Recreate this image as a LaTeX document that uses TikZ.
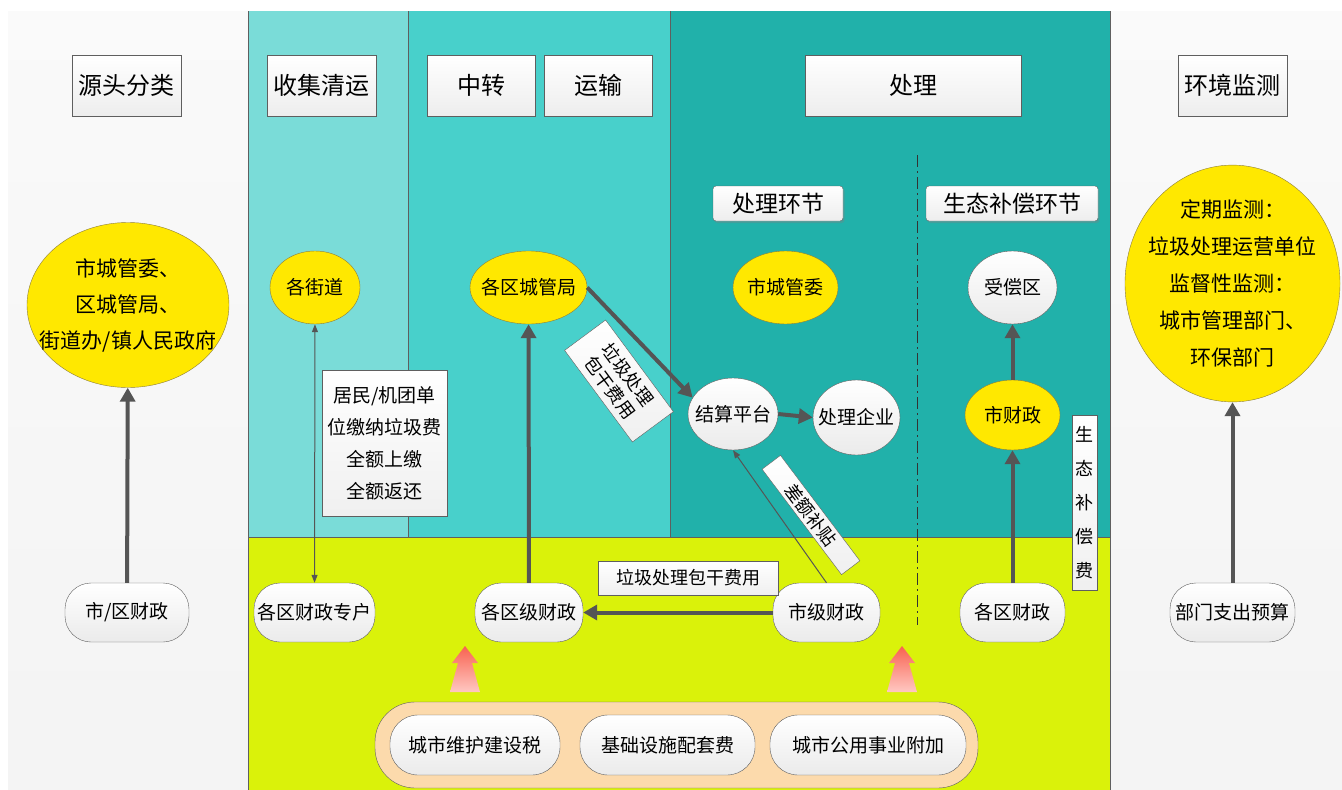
\documentclass[tikz,border=0pt]{standalone}
\usepackage{fontspec}
\setmainfont{Noto Sans CJK SC}
\usepackage{tikz}
\usetikzlibrary{positioning, arrows.meta, shapes.geometric, shadows}

\definecolor{sidegray}{RGB}{244,244,244}
\definecolor{laneA}{RGB}{122,220,216}
\definecolor{laneB}{RGB}{72,208,203}
\definecolor{laneC}{RGB}{33,177,170}
\definecolor{laneY}{RGB}{218,242,10}
\definecolor{bubyellow}{RGB}{255,232,0}
\definecolor{bubedge}{RGB}{140,125,60}
\definecolor{edgegray}{RGB}{95,95,95}
\definecolor{arrowgray}{RGB}{85,85,85}
\definecolor{peach}{RGB}{252,218,172}
\definecolor{uptop}{RGB}{248,98,80}
\definecolor{upbot}{RGB}{255,200,195}

\begin{document}
\begin{tikzpicture}[x=1pt, y=-1pt,
	font=\fontsize{19}{22}\selectfont,
	hbox/.style={draw=edgegray, top color=white, bottom color=gray!14, minimum height=61pt, inner sep=0pt, font=\fontsize{24}{28}\selectfont},
	stagebox/.style={draw=edgegray, rounded corners=3pt, top color=white, bottom color=gray!14, minimum height=35pt, inner sep=0pt, font=\fontsize{23}{26}\selectfont, drop shadow={opacity=0.35, shadow xshift=1.5pt, shadow yshift=-2pt}},
	ybub/.style={ellipse, draw=bubedge, fill=bubyellow, inner xsep=-10pt, inner ysep=0pt},
	wbub/.style={ellipse, draw=edgegray, top color=white, bottom color=gray!16, inner xsep=-10pt, inner ysep=0pt},
	finbox/.style={draw=edgegray, rounded corners=26pt, top color=white, bottom color=gray!16, minimum height=59pt, inner sep=0pt},
	lbox/.style={draw=edgegray, top color=white, bottom color=gray!12, inner sep=1pt, align=center},
	flow/.style={draw=arrowgray, line width=4pt, -{Triangle[length=14pt,width=15pt]}},
	thinflow/.style={draw=arrowgray, line width=1pt, -{Triangle[length=8pt,width=6pt]}},
	]
	\useasboundingbox (0,0) rectangle (1342,790);
	% lanes
	\fill[white] (0,0) rectangle (1342,790);
	\shade[top color=gray!4, bottom color=gray!9] (8,11) rectangle (248,790);
	\shade[top color=gray!4, bottom color=gray!9] (1110,11) rectangle (1342,790);
	\fill[laneA] (248,11) rectangle (408,537);
	\fill[laneB] (408,11) rectangle (670,537);
	\fill[laneC] (670,11) rectangle (1110,537);
	\fill[laneY] (248,537) rectangle (1110,790);
	\draw[edgegray] (248,11) -- (248,790) (1110,11) -- (1110,790)
		(408,11) -- (408,537) (670,11) -- (670,537) (248,537) -- (1110,537);
	\draw[black!80, dash pattern=on 12pt off 4pt on 2pt off 4pt] (917,155) -- (917,625);

	% headers
	\node[hbox, minimum width=109pt] (head-1) at (126.5,85.5) {源头分类};
	\node[hbox, minimum width=109pt] (head-2) at (321.5,85.5) {收集清运};
	\node[hbox, minimum width=108pt] (head-3) at (481,85.5) {中转};
	\node[hbox, minimum width=108pt, right=9pt of head-3] (head-4) {运输};
	\node[hbox, minimum width=216pt] (head-5) at (913,85.5) {处理};
	\node[hbox, minimum width=109pt] (head-6) at (1232.5,85.5) {环境监测};
	\node[stagebox, minimum width=130pt] (stage-1) at (778,203.5) {处理环节};
	\node[stagebox, minimum width=172pt] (stage-2) at (1012,203.5) {生态补偿环节};

	% bubbles
	\node[ybub, minimum width=202pt, minimum height=165pt, inner xsep=-30pt, align=center, font=\fontsize{21}{36}\selectfont] (org-src) at (128,305) {市城管委、\\区城管局、\\街道办/镇人民政府};
	\node[ybub, minimum width=90pt, minimum height=73pt] (street) at (315,287.5) {各街道};
	\node[ybub, minimum width=117pt, minimum height=73pt] (dist-bur) at (528.5,287.5) {各区城管局};
	\node[ybub, minimum width=105pt, minimum height=73pt] (city-com) at (785.5,287.5) {市城管委};
	\node[wbub, minimum width=89pt, minimum height=73pt] (comp-area) at (1012.5,287.5) {受偿区};
	\node[wbub, minimum width=90pt, minimum height=72pt] (settle) at (733,414) {结算平台};
	\node[wbub, minimum width=87pt, minimum height=75pt] (plant) at (856.5,417.5) {处理企业};
	\node[ybub, minimum width=95pt, minimum height=70pt] (city-fin) at (1012.5,415) {市财政};
	\node[ybub, minimum width=215pt, minimum height=223pt, inner xsep=-22pt, align=center, font=\fontsize{21}{37}\selectfont] (monitor) at (1232.5,283.5) {定期监测：\\垃圾处理运营单位\\监督性监测：\\城市管理部门、\\环保部门};

	% finance
	\node[finbox, minimum width=124pt] (fin-src) at (127,612.5) {市/区财政};
	\node[finbox, minimum width=121pt] (fin-acct) at (314.5,612.5) {各区财政专户};
	\node[finbox, minimum width=108pt] (fin-dist) at (529,612.5) {各区级财政};
	\node[finbox, minimum width=107pt] (fin-city) at (826.5,612.5) {市级财政};
	\node[finbox, minimum width=105pt] (fin-area) at (1012.5,612.5) {各区财政};
	\node[finbox, minimum width=125pt] (fin-dept) at (1232.5,612.5) {部门支出预算};

	% sources
	\node[draw=edgegray, fill=peach, rounded corners=40pt, minimum width=603pt, minimum height=86pt] (src-band) at (676.5,745) {};
	\node[finbox, rounded corners=28pt, minimum width=170pt, minimum height=60pt] (tax-1) at (475,745) {城市维护建设税};
	\node[finbox, rounded corners=28pt, minimum width=175pt, minimum height=60pt] (tax-2) at (667.5,745) {基础设施配套费};
	\node[finbox, rounded corners=28pt, minimum width=196pt, minimum height=60pt] (tax-3) at (868,745) {城市公用事业附加};
	\foreach \ux in {465,902}
		\shade[shift={(\ux,646)}, top color=uptop, bottom color=upbot] (0,0) -- (13,17) -- (7,17) -- (15,46) -- (-15,46) -- (-7,17) -- (-13,17) -- cycle;

	% arrows
	\draw[flow] (fin-src) -- (org-src);
	\draw[thinflow, {Triangle[length=8pt,width=6pt]}-{Triangle[length=8pt,width=6pt]}] (street) -- (fin-acct);
	\draw[flow] (fin-dist) -- (dist-bur);
	\draw[flow] (dist-bur.east) -- (settle.158);
	\draw[flow] (settle.east) -- (plant.west);
	\draw[flow] (fin-city.west) -- (fin-dist.east);
	\draw[thinflow] (fin-city.north) -- (settle.south);
	\draw[flow] (fin-area) -- (city-fin);
	\draw[flow] (city-fin) -- (comp-area);
	\draw[flow] (fin-dept) -- (monitor);

	% labels
	\node[lbox, minimum width=125pt, minimum height=146pt, font=\fontsize{19}{32}\selectfont] (fee-note) at (384.5,443) {居民/机团单\\位缴纳垃圾费\\全额上缴\\全额返还};
	\node[lbox, minimum width=180pt, minimum height=34pt, font=\fontsize{18}{20}\selectfont] (fee-pack) at (688,578) {垃圾处理包干费用};
	\node[lbox, rotate=-53.5, minimum width=114pt, minimum height=51pt, font=\fontsize{18}{22}\selectfont] (fee-pack-2) at (619,381) {垃圾处理\\包干费用};
	\node[lbox, rotate=-53, minimum width=132pt, minimum height=23pt, font=\fontsize{18}{20}\selectfont] (fee-diff) at (811,515) {差额补贴};
	\node[lbox, minimum width=25pt, minimum height=175pt, font=\fontsize{18}{34}\selectfont] (fee-eco) at (1084.5,502.5) {生\\态\\补\\偿\\费};
\end{tikzpicture}
\end{document}
